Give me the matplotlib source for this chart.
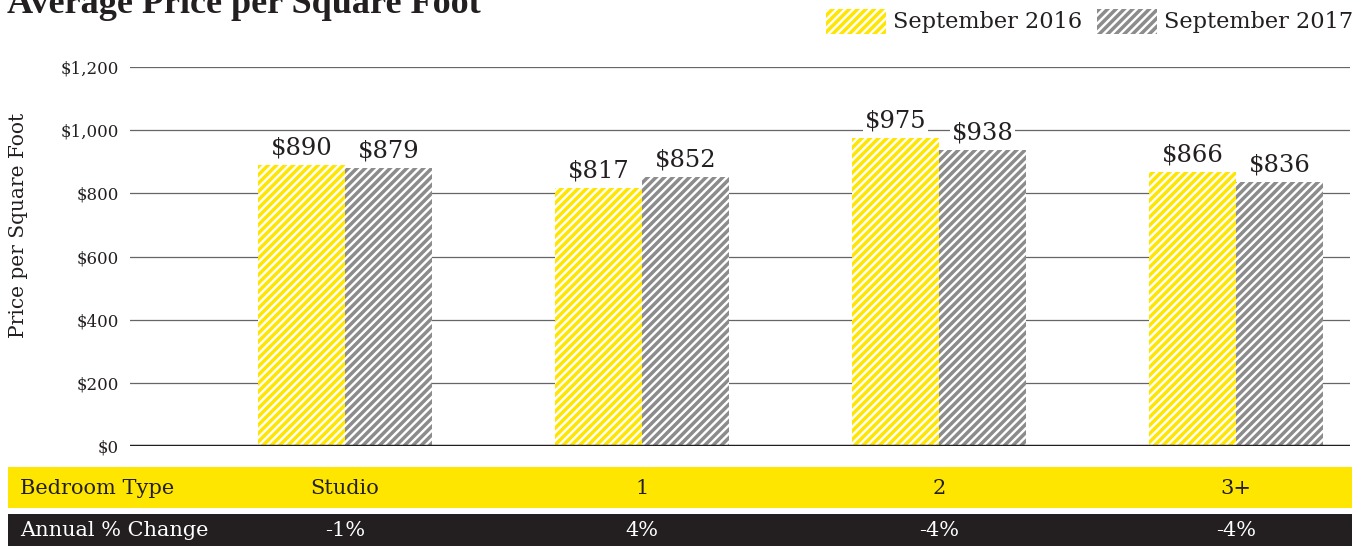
import matplotlib.pyplot as plt
from matplotlib.patches import Rectangle
from matplotlib.transforms import blended_transform_factory
import numpy as np

bedroom_types = ["Studio", "1", "2", "3+"]
sep_2016 = [890, 817, 975, 866]
sep_2017 = [879, 852, 938, 836]
annual_change = ["-1%", "4%", "-4%", "-4%"]
y_ticks = [0, 200, 400, 600, 800, 1000, 1200]
y_tick_labels = ["$0", "$200", "$400", "$600", "$800", "$1,000", "$1,200"]

YELLOW = "#FFE600"
GRAY = "#8C8C8C"
DARK = "#231F20"

plt.rcParams["font.family"] = ["DejaVu Serif"]
plt.rcParams["hatch.linewidth"] = 2.5

W, H = 1366, 546
fig = plt.figure(figsize=(W / 100, H / 100), dpi=100)


def fx(px):
    return px / W


def fy(py):
    return 1 - py / H


ax_left, ax_right = 130, 1350
ax = fig.add_axes([fx(ax_left), fy(446), fx(ax_right) - fx(ax_left), fy(67) - fy(446)])

x = np.arange(len(bedroom_types))
width = 0.293
b1 = ax.bar(x - width / 2, sep_2016, width, color="white", edgecolor=YELLOW,
            hatch="////", linewidth=0, zorder=3)
b2 = ax.bar(x + width / 2, sep_2017, width, color="white", edgecolor=GRAY,
            hatch="////", linewidth=0, zorder=3)

for bars, vals in [(b1, sep_2016), (b2, sep_2017)]:
    for bar, v in zip(bars, vals):
        ax.annotate(f"${v}", (bar.get_x() + bar.get_width() / 2, v),
                    xytext=(0, 4), textcoords="offset points",
                    ha="center", va="bottom", fontsize=17.5, color=DARK,
                    bbox=dict(facecolor="white", edgecolor="none", pad=1),
                    zorder=4)

ax.set_xlim(-215 / 297, -215 / 297 + 1220 / 297)
ax.set_ylim(0, 1200)
ax.set_yticks(y_ticks)
ax.set_yticklabels(y_tick_labels, fontsize=12, color=DARK)
ax.tick_params(axis="y", length=0, pad=8)
ax.set_xticks([])
for s in ax.spines.values():
    s.set_visible(False)
ax.grid(axis="y", color="#666666", linewidth=0.9, zorder=0)
ax.axhline(0, color=DARK, linewidth=2.5, zorder=5)
ax.set_ylabel("Price per Square Foot", fontsize=14.5, color=DARK)
ax.yaxis.set_label_coords((28 - ax_left) / (ax_right - ax_left), 0.583)

# title (cut at top, like the reference)
fig.text(fx(7), fy(13), "Average Price per Square Foot", fontsize=26,
         fontweight="bold", family="Liberation Serif", color=DARK,
         va="baseline", ha="left")

# legend
for px, color, label in [(826, YELLOW, "September 2016"), (1097, GRAY, "September 2017")]:
    fig.add_artist(Rectangle((fx(px), fy(34)), fx(60), fy(9) - fy(34),
                             transform=fig.transFigure, facecolor="white",
                             edgecolor=color, hatch="////", linewidth=0))
    fig.text(fx(px + 67), fy(22), label, fontsize=16.2, color=DARK,
             va="center", ha="left")

# table rows
trans = blended_transform_factory(ax.transData, fig.transFigure)
fig.add_artist(Rectangle((fx(8), fy(508)), fx(1352) - fx(8), fy(467) - fy(508),
                         transform=fig.transFigure, facecolor=YELLOW, edgecolor="none"))
fig.add_artist(Rectangle((fx(8), fy(560)), fx(1352) - fx(8), fy(514) - fy(560),
                         transform=fig.transFigure, facecolor=DARK, edgecolor="none"))
fig.text(fx(20), fy(488), "Bedroom Type", fontsize=15, color=DARK, va="center", ha="left")
fig.text(fx(20), fy(531), "Annual % Change", fontsize=15, color="white", va="center", ha="left")
for i, (cat, chg) in enumerate(zip(bedroom_types, annual_change)):
    fig.text(i, fy(488), cat, fontsize=15, color=DARK, va="center", ha="center", transform=trans)
    fig.text(i, fy(531), chg, fontsize=15, color="white", va="center", ha="center", transform=trans)

plt.savefig("out.png", dpi=100)
